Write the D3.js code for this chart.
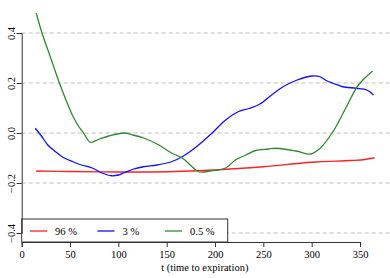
<!DOCTYPE html>
<html lang="en">
<head>
    <meta charset="UTF-8" />
    <title>Time to expiration</title>
    <script src="https://d3js.org/d3.v7.min.js"></script>
    <style>
        body { margin: 0; background: #fff; }
        .grid { stroke: #bdbdbd; stroke-dasharray: 4,3; }
        .axis path, .axis line { stroke: #333; }
        .series { fill: none; stroke-width: 1.3; }
    </style>
</head>
<body>
    <div id="chart"></div>

    <script>
        var width = 390, height = 278;
        const fontSerif = "Liberation Serif";

        // series names and colours
        const seriesNames = ["96 %", "3 %", "0.5 %"];
        const seriesColors = ["#ff2020", "#1010ff", "#2e8b2e"];

        // t values / estimated values
        const redT = [15, 50, 100, 150, 200, 250, 300, 340, 355, 365];
        const redV = [-0.152, -0.154, -0.156, -0.155, -0.148, -0.135, -0.117, -0.110, -0.106, -0.099];

        const blueT = [14, 20, 27, 35, 44, 53, 62, 73, 83, 93, 100, 106, 115, 126, 140, 155, 166, 175, 183, 197, 211, 224, 235, 246, 258, 270, 285, 300, 308, 315, 322, 332, 346, 357, 364];
        const blueV = [0.019, -0.01, -0.048, -0.075, -0.1, -0.115, -0.128, -0.14, -0.16, -0.171, -0.168, -0.159, -0.145, -0.135, -0.128, -0.115, -0.095, -0.072, -0.048, 0.0, 0.052, 0.085, 0.098, 0.115, 0.15, 0.184, 0.212, 0.228, 0.226, 0.21, 0.199, 0.185, 0.179, 0.172, 0.152];

        const greenT = [15, 21, 30, 39, 46, 52, 58, 64, 71, 80, 90, 106, 115, 126, 142, 155, 166, 175, 183, 195, 211, 221, 232, 242, 255, 263, 284, 299, 309, 322, 336, 348, 363];
        const greenV = [0.48, 0.40, 0.30, 0.20, 0.13, 0.075, 0.032, 0.0, -0.037, -0.025, -0.012, 0.0, -0.008, -0.02, -0.048, -0.08, -0.1, -0.13, -0.155, -0.152, -0.14, -0.108, -0.088, -0.07, -0.064, -0.061, -0.072, -0.084, -0.06, 0.005, 0.105, 0.19, 0.248];

        const xTicks = [0, 50, 100, 150, 200, 250, 300, 350];
        const yTicks = [-0.4, -0.2, 0.0, 0.2, 0.4];

        const allSeries = [
            redT.map((t, i) => ({ t: t, v: redV[i] })),
            blueT.map((t, i) => ({ t: t, v: blueV[i] })),
            greenT.map((t, i) => ({ t: t, v: greenV[i] }))
        ];

        let svg = d3.select("#chart")
            .append("svg")
            .attr("width", width)
            .attr("height", height);

        var x = d3.scaleLinear().domain([0, 350]).range([21.7, 360]);
        var y = d3.scaleLinear().domain([-0.4, 0.4]).range([233, 33]);
        const axisY = 242;

        // grade tracejada
        svg.selectAll("line.grid")
            .data(yTicks)
            .enter()
            .append("line")
            .attr("class", "grid")
            .attr("x1", x(0))
            .attr("x2", width)
            .attr("y1", d => y(d))
            .attr("y2", d => y(d));

        var line = d3.line()
            .x(d => x(d.t))
            .y(d => y(d.v))
            .curve(d3.curveCatmullRom);

        svg.selectAll("path.series")
            .data(allSeries)
            .enter()
            .append("path")
            .attr("class", "series")
            .attr("stroke", (d, i) => seriesColors[i])
            .attr("d", line);

        // legenda
        let legend = svg.append("g");
        legend.append("rect")
            .attr("x", x(0))
            .attr("y", 219)
            .attr("width", 206)
            .attr("height", axisY - 219)
            .attr("fill", "#fff")
            .attr("stroke", "#333");

        let items = legend.selectAll("g.item")
            .data(seriesNames)
            .enter()
            .append("g")
            .attr("transform", (d, i) => "translate(" + (30 + i * 67.5) + ",231)");
        items.append("line")
            .attr("x1", 0).attr("x2", 17)
            .attr("stroke", (d, i) => seriesColors[i])
            .attr("stroke-width", 1.3);
        items.append("text")
            .attr("x", 25)
            .attr("dy", "0.35em")
            .text(d => d);

        // eixos
        let xAxis = svg.append("g")
            .attr("class", "axis")
            .attr("transform", "translate(0," + axisY + ")")
            .call(d3.axisBottom(x).tickValues(xTicks).tickFormat(d3.format("d")).tickSizeOuter(0).tickSize(5).tickPadding(4));

        let yAxis = svg.append("g")
            .attr("class", "axis")
            .attr("transform", "translate(" + x(0) + ",0)")
            .call(d3.axisLeft(y).tickValues(yTicks).tickFormat(d3.format(".1f")).tickSizeOuter(0).tickSize(5));
        yAxis.selectAll(".tick text")
            .attr("transform", "rotate(-90)")
            .attr("x", 0)
            .attr("y", -6.7)
            .attr("dy", 0)
            .attr("text-anchor", "middle");

        // título centrado na região do gráfico
        svg.append("text")
            .attr("x", (x.range()[0] + width - 2) / 2)
            .attr("y", 271)
            .attr("text-anchor", "middle")
            .text("t (time to expiration)");

        // fonte serifada em todos os textos
        svg.selectAll("text")
            .attr("font-family", fontSerif)
            .attr("font-size", 10.5)
            .style("font-family", fontSerif)
            .style("font-size", "10.5px")
            .attr("fill", "#000");
    </script>
</body>
</html>
